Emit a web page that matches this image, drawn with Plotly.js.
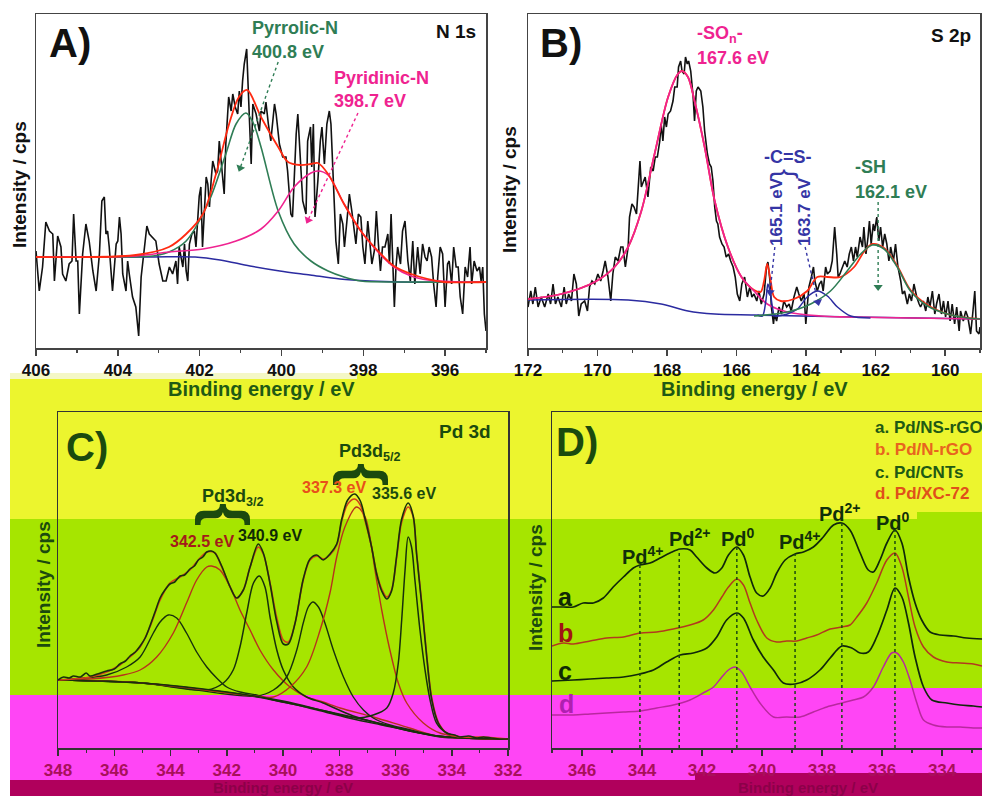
<!DOCTYPE html>
<html>
<head>
<meta charset="utf-8">
<script src="https://cdn.plot.ly/plotly-3.0.1.min.js"></script>
<style>
html,body{margin:0;padding:0;background:#fff;}
#chart{width:982px;height:796px;}
</style>
</head>
<body>
<div id="chart"></div>
<script>
// ---------------- DATA (binding energy eV, intensity a.u.) ----------------
// Panel A : N 1s
const aRaw = [[406.00,97],[405.92,57],[405.84,81],[405.76,126],[405.67,117],[405.59,114],[405.55,67],[405.47,112],[405.39,101],[405.35,74],[405.27,67],[405.19,84],[405.12,87],[405.08,134],[405.02,87],[404.98,87],[404.94,34],[404.86,94],[404.78,124],[404.70,107],[404.61,77],[404.53,57],[404.45,94],[404.39,147],[404.33,151],[404.29,114],[404.25,117],[404.21,101],[404.13,57],[404.04,104],[404.00,107],[403.96,131],[403.92,114],[403.88,74],[403.80,57],[403.76,87],[403.72,74],[403.64,51],[403.56,41],[403.49,12],[403.43,71],[403.35,101],[403.29,122],[403.23,114],[403.15,111],[403.07,107],[402.99,84],[402.90,67],[402.82,67],[402.74,81],[402.66,74],[402.58,87],[402.54,64],[402.50,101],[402.41,81],[402.37,104],[402.33,77],[402.29,67],[402.25,104],[402.19,114],[402.13,117],[402.09,101],[402.01,152],[401.97,161],[401.93,101],[401.89,134],[401.84,171],[401.80,164],[401.76,141],[401.72,167],[401.68,187],[401.60,174],[401.56,177],[401.52,207],[401.44,167],[401.40,154],[401.36,204],[401.29,251],[401.23,237],[401.19,254],[401.13,241],[401.07,234],[401.03,257],[400.99,241],[400.95,267],[400.91,284],[400.85,299],[400.79,224],[400.74,184],[400.70,244],[400.62,234],[400.54,217],[400.50,237],[400.42,234],[400.38,246],[400.32,224],[400.26,207],[400.17,244],[400.13,234],[400.05,204],[399.97,191],[399.89,191],[399.85,177],[399.77,134],[399.73,131],[399.69,167],[399.64,214],[399.60,234],[399.56,207],[399.52,174],[399.48,147],[399.40,134],[399.36,207],[399.29,221],[399.26,181],[399.22,224],[399.18,131],[399.11,167],[399.05,207],[399.01,221],[398.95,184],[398.89,224],[398.83,237],[398.79,224],[398.72,147],[398.67,107],[398.61,84],[398.56,134],[398.50,124],[398.46,101],[398.40,127],[398.34,154],[398.28,137],[398.23,121],[398.18,104],[398.12,134],[398.06,131],[398.01,101],[397.96,84],[397.89,127],[397.85,107],[397.79,84],[397.73,97],[397.68,137],[397.63,104],[397.58,77],[397.53,101],[397.47,101],[397.40,114],[397.36,84],[397.32,134],[397.28,84],[397.24,41],[397.20,81],[397.16,101],[397.09,84],[397.04,117],[396.98,127],[396.91,87],[396.85,67],[396.79,107],[396.74,64],[396.67,101],[396.61,74],[396.55,104],[396.49,91],[396.44,87],[396.39,101],[396.33,91],[396.28,64],[396.22,41],[396.18,71],[396.12,101],[396.06,94],[396.00,41],[395.94,84],[395.90,87],[395.84,64],[395.79,101],[395.73,81],[395.68,81],[395.63,51],[395.57,34],[395.51,81],[395.45,71],[395.39,101],[395.35,64],[395.29,87],[395.22,77],[395.16,81],[395.12,67],[395.08,81],[395.04,34],[395.00,17]];
const aEnvelope = [[406,91],[403.56,93],[402.75,101],[402.33,114],[401.92,134],[401.60,174],[401.28,224],[401.04,251],[400.84,258],[400.50,231],[400.08,201],[399.84,186],[399.55,183],[399.28,184],[399.11,185],[398.86,174],[398.47,144],[398.06,117],[397.64,97],[397.25,82],[396.83,74],[396.42,69],[396.03,66],[395,66]];
const aPyrrolic = [[406,91],[403.70,91],[403.14,92],[402.75,96],[402.33,107],[401.77,147],[401.36,194],[401.11,224],[400.87,235],[400.70,226],[400.50,201],[400.08,137],[399.69,104],[399.28,87],[398.86,77],[398.47,71],[398.06,67],[397.10,66],[395,66]];
const aPyridinic = [[406,91],[403.56,92],[402.75,96],[401.92,99],[401.11,107],[400.50,119],[400.08,137],[399.69,161],[399.28,175],[399.11,177],[398.86,173],[398.47,144],[398.06,117],[397.64,96],[397.25,81],[396.83,72],[396.42,68],[395.61,66],[395,66]];
const aBackground = [[406,91],[403.21,91],[402.11,91],[401.50,88],[400.77,82],[400.04,77],[399.30,73],[398.57,69],[397.84,67],[397.10,66],[395,66]];

// Panel B : S 2p
const bRaw = [[172.00,41],[171.92,57],[171.86,44],[171.79,61],[171.71,41],[171.62,51],[171.52,41],[171.42,54],[171.35,44],[171.28,64],[171.21,44],[171.14,51],[171.04,41],[170.96,61],[170.90,44],[170.83,54],[170.75,47],[170.68,74],[170.61,64],[170.54,32],[170.47,44],[170.37,47],[170.29,37],[170.23,61],[170.16,67],[170.08,64],[169.99,74],[169.91,67],[169.84,77],[169.78,87],[169.70,71],[169.62,47],[169.56,74],[169.49,91],[169.41,87],[169.33,101],[169.27,101],[169.20,81],[169.12,101],[169.08,131],[169.01,144],[168.95,141],[168.88,134],[168.82,167],[168.78,187],[168.74,161],[168.68,167],[168.63,171],[168.55,151],[168.47,181],[168.40,177],[168.34,191],[168.28,191],[168.21,207],[168.17,224],[168.12,207],[168.07,231],[168.02,221],[167.97,234],[167.90,237],[167.83,247],[167.78,261],[167.71,261],[167.67,281],[167.61,287],[167.57,277],[167.51,274],[167.47,291],[167.42,284],[167.38,287],[167.32,277],[167.25,251],[167.21,227],[167.16,257],[167.11,261],[167.03,257],[166.97,241],[166.92,217],[166.84,194],[166.78,184],[166.73,181],[166.68,167],[166.63,141],[166.58,127],[166.54,124],[166.49,111],[166.42,104],[166.36,101],[166.30,91],[166.23,94],[166.17,87],[166.10,81],[166.04,71],[165.98,54],[165.91,47],[165.85,64],[165.77,71],[165.69,51],[165.62,61],[165.56,51],[165.50,54],[165.42,47],[165.36,57],[165.29,44],[165.21,54],[165.14,81],[165.10,86],[165.04,67],[165.00,41],[164.94,24],[164.91,34],[164.85,27],[164.78,41],[164.71,34],[164.64,47],[164.56,41],[164.49,44],[164.43,37],[164.35,51],[164.27,61],[164.21,54],[164.14,47],[164.06,54],[164.01,24],[163.97,41],[163.92,61],[163.85,71],[163.79,81],[163.75,67],[163.68,57],[163.62,64],[163.56,67],[163.51,57],[163.44,81],[163.39,74],[163.31,77],[163.25,87],[163.18,121],[163.12,94],[163.08,71],[163.03,74],[162.96,81],[162.89,87],[162.82,81],[162.76,94],[162.70,101],[162.64,87],[162.58,101],[162.53,91],[162.45,111],[162.38,101],[162.34,121],[162.28,94],[162.22,111],[162.18,127],[162.13,104],[162.07,124],[162.03,117],[161.97,131],[161.91,107],[161.86,121],[161.80,101],[161.74,114],[161.68,104],[161.62,87],[161.57,101],[161.49,87],[161.43,104],[161.36,81],[161.28,67],[161.23,54],[161.17,57],[161.09,44],[161.03,54],[160.97,47],[160.90,64],[160.82,51],[160.75,44],[160.71,41],[160.63,47],[160.56,37],[160.50,51],[160.44,41],[160.37,57],[160.30,34],[160.25,44],[160.18,54],[160.11,34],[160.05,47],[159.99,31],[159.92,47],[159.86,27],[159.80,44],[159.73,24],[159.67,41],[159.60,17],[159.56,37],[159.48,27],[159.41,37],[159.35,31],[159.27,14],[159.21,34],[159.15,57],[159.10,17],[159.03,14],[159.00,21]];
const bSOn = [[172,49],[171.04,54],[170.08,66],[169.51,81],[169.12,101],[168.74,137],[168.36,194],[167.97,251],[167.69,274],[167.57,277],[167.40,271],[167.21,247],[166.92,201],[166.63,147],[166.25,101],[165.86,71],[165.50,57],[165.12,44],[164.54,36],[163.58,32],[162.82,31],[159,29]];
const bEnvelope = [[172,49],[171.04,54],[170.08,66],[169.51,81],[169.12,101],[168.74,137],[168.36,194],[167.97,251],[167.69,274],[167.57,277],[167.40,271],[167.21,247],[166.92,201],[166.63,147],[166.25,101],[165.86,71],[165.50,58],[165.31,56],[165.21,67],[165.12,84],[165.02,67],[164.92,51],[164.73,47],[164.35,49],[163.97,57],[163.68,71],[163.39,71],[163.01,71],[162.62,81],[162.34,96],[162.10,104],[161.76,100],[161.38,82],[161.00,58],[160.51,43],[159.94,34],[159.36,30],[159,29]];
const bCS1 = [[165.40,33],[165.26,32],[165.16,47],[165.10,64],[165.04,57],[164.97,41],[164.91,32],[164.80,32]];
const bCS2 = [[164.80,32],[164.54,34],[164.25,39],[163.97,51],[163.68,57],[163.39,52],[163.10,41],[162.72,32],[162.15,30]];
const bSH = [[165.5,32],[164.54,36],[163.87,44],[163.30,57],[162.82,77],[162.43,94],[162.10,103],[161.76,99],[161.38,81],[161.00,57],[160.51,42],[159.94,34],[159.36,30],[159,29]];
const bBackground = [[172,48],[169.12,48],[168.17,44],[167.40,37],[166.63,34],[165.50,33],[162.62,31],[159,29]];

// Panel C : Pd 3d (Pd/NS-rGO)
const cData = [[348.0,68],[347.8,71],[347.6,70],[347.45,72],[347.2,71],[347.0,75],[346.86,72],[346.6,74],[346.27,77],[346.0,79],[345.80,84],[345.6,87],[345.44,92],[345.25,96],[345.08,102],[344.9,110],[344.73,122],[344.55,136],[344.37,150],[344.2,158],[344.02,164],[343.85,166],[343.66,172],[343.5,173],[343.31,179],[343.15,182],[343.01,188],[342.85,191],[342.71,196],[342.55,197],[342.42,195],[342.18,182],[341.88,161],[341.65,150],[341.41,158],[341.17,181],[340.88,204],[340.70,195],[340.46,164],[340.22,126],[339.99,104],[339.81,104],[339.57,125],[339.28,169],[339.04,189],[338.80,193],[338.57,188],[338.33,194],[338.09,204],[337.91,229],[337.70,248],[337.45,254],[337.25,247],[337.08,229],[336.85,201],[336.67,174],[336.49,157],[336.31,149],[336.14,157],[335.96,192],[335.78,229],[335.55,245],[335.37,232],[335.25,194],[335.07,144],[334.89,91],[334.71,48],[334.48,25],[334.18,15],[333.9,13],[333.71,11],[333.4,12],[333.1,10],[332.88,11],[332.6,10],[332.3,9],[332.0,9]];
const cEnvelope = [[348,68],[347.45,69],[346.86,71],[346.27,76],[345.80,83],[345.44,91],[345.08,101],[344.73,121],[344.37,148],[344.02,165],[343.66,171],[343.31,178],[343.01,188],[342.71,196],[342.42,195],[342.18,181],[341.88,161],[341.65,150],[341.41,158],[341.17,181],[340.88,201],[340.70,194],[340.46,165],[340.22,130],[339.99,108],[339.81,106],[339.57,125],[339.28,168],[339.04,188],[338.80,192],[338.57,189],[338.33,193],[338.09,203],[337.91,227],[337.70,244],[337.45,249],[337.25,243],[337.08,227],[336.85,201],[336.67,175],[336.49,159],[336.31,151],[336.14,158],[335.96,190],[335.78,226],[335.55,241],[335.37,231],[335.25,195],[335.07,146],[334.89,93],[334.71,50],[334.48,26],[334.18,15],[333.71,11],[332.88,11],[332.0,9]];
const cPd4p32 = [[348,68],[347.45,69],[346.27,73],[345.56,81],[345.08,91],[344.61,115],[344.37,126],[344.08,133],[343.78,130],[343.43,115],[343.07,96],[342.71,81],[342.36,70],[342.00,61],[341.53,56],[340.94,53],[340.34,48],[339.5,43],[338.5,36],[337.5,29],[336.5,23],[335.5,17],[334.5,12],[333.5,10],[332,9]];
const cPd2p32 = [[348,68],[346.86,69],[345.68,73],[345.08,78],[344.49,91],[343.90,115],[343.43,145],[343.07,168],[342.71,181],[342.54,182],[342.24,178],[341.88,161],[341.53,138],[341.17,118],[340.82,98],[340.34,78],[339.75,61],[339.16,51],[338.57,46],[337.97,40],[336.79,31],[335.5,20],[334.5,12],[333.5,10],[332,9]];
const cPd0p32 = [[348,68],[345,65],[342.71,58],[342.12,65],[341.77,78],[341.53,101],[341.29,135],[341.05,165],[340.84,172],[340.64,161],[340.46,131],[340.22,98],[339.99,78],[339.63,61],[339.16,51],[338.57,45],[337.5,32],[336.5,24],[335.5,17],[334.5,12],[333.5,10],[332,9]];
const cPd4p52 = [[348,68],[345,65],[340.94,52],[340.34,58],[339.87,71],[339.51,98],[339.28,125],[339.10,141],[338.94,146],[338.74,141],[338.51,125],[338.21,98],[337.85,71],[337.50,51],[337.14,38],[336.79,30],[336.20,23],[335.60,19],[334.5,12],[333.5,10],[332,9]];
const cPd2p52 = [[348,68],[345,65],[341,52],[340.34,51],[339.75,61],[339.16,81],[338.68,118],[338.33,155],[338.09,191],[337.80,221],[337.39,241],[337.08,231],[336.91,211],[336.73,178],[336.49,138],[336.20,98],[335.90,65],[335.60,45],[335.01,25],[334.42,15],[333.23,10],[332,9]];
const cPd0p52 = [[348,68],[345,65],[342,56],[340,47],[338.5,37],[337.38,30],[336.79,33],[336.31,40],[336.08,55],[335.90,85],[335.78,128],[335.66,178],[335.55,211],[335.43,201],[335.31,168],[335.13,118],[334.95,78],[334.77,48],[334.54,25],[334.18,15],[333.71,11],[332,9]];
const cBackground = [[348,68],[345.08,65],[342.70,58],[340.92,51],[339.15,41],[337.37,30],[335.59,18],[334.42,11],[333.81,10],[332,9]];

// Panel D : Pd 3d of four catalysts
const dSeriesNames = ['a. Pd/NS-rGO', 'b. Pd/N-rGO', 'c. Pd/CNTs', 'd. Pd/XC-72'];
const dA = [[347.0,141],[346.62,141],[346.29,141],[345.96,145],[345.62,145],[345.29,150],[344.96,161],[344.62,171],[344.29,180],[344.07,183],[343.73,185],[343.40,190],[343.07,195],[342.73,199],[342.40,198],[342.18,191],[341.84,180],[341.57,175],[341.34,180],[341.12,193],[340.84,201],[340.62,193],[340.40,171],[340.18,155],[339.96,152],[339.73,160],[339.51,175],[339.23,188],[338.90,194],[338.62,196],[338.29,201],[337.96,211],[337.62,223],[337.34,225],[337.07,218],[336.73,195],[336.46,178],[336.29,176],[336.07,188],[335.84,205],[335.57,218],[335.34,205],[335.12,171],[334.90,145],[334.68,128],[334.40,116],[334.07,113],[333.62,112],[333.18,110],[332.67,109]];
const dB = [[347.0,102],[346.62,105],[346.29,104],[345.73,107],[345.18,110],[344.62,111],[344.07,115],[343.51,116],[342.96,119],[342.40,123],[341.96,128],[341.62,138],[341.34,151],[341.12,161],[340.84,169],[340.62,163],[340.40,145],[340.18,128],[339.84,110],[339.51,106],[339.18,107],[338.84,107],[338.51,110],[338.18,113],[337.73,119],[337.34,121],[337.07,123],[336.84,131],[336.51,145],[336.18,165],[335.84,188],[335.57,195],[335.34,181],[335.12,151],[334.90,121],[334.62,101],[334.29,91],[333.84,86],[333.40,85],[332.96,84],[332.67,82]];
const dC = [[347.0,67],[346.29,68],[345.73,69],[345.18,70],[344.62,71],[344.07,74],[343.62,78],[343.18,86],[342.73,93],[342.29,95],[341.84,100],[341.51,111],[341.18,128],[340.84,135],[340.62,130],[340.29,108],[339.96,91],[339.62,78],[339.29,65],[338.90,64],[338.51,68],[338.07,78],[337.73,90],[337.34,102],[337.01,100],[336.73,95],[336.46,96],[336.18,111],[335.84,138],[335.57,160],[335.34,151],[335.12,125],[334.90,91],[334.62,61],[334.34,48],[333.84,45],[333.40,43],[332.96,42],[332.67,41]];
const dD = [[347.0,33],[346.29,33],[345.73,34],[345.18,35],[344.62,36],[344.07,37],[343.51,40],[342.96,43],[342.40,48],[341.96,55],[341.62,61],[341.34,71],[341.12,78],[340.90,81],[340.68,76],[340.40,61],[340.07,45],[339.62,31],[339.18,31],[338.73,31],[338.29,36],[337.84,41],[337.34,45],[336.96,48],[336.62,51],[336.29,61],[335.96,81],[335.68,95],[335.51,95],[335.29,86],[335.07,68],[334.84,45],[334.62,28],[334.29,23],[333.84,21],[333.40,21],[332.96,20],[332.67,20]];
const dPeakE = [344.07, 342.76, 340.84, 338.90, 337.34, 335.57];
const dPeakLabels = ['Pd<sup>4+</sup>', 'Pd<sup>2+</sup>', 'Pd<sup>0</sup>', 'Pd<sup>4+</sup>', 'Pd<sup>2+</sup>', 'Pd<sup>0</sup>'];

// ---------------- DRAWING ----------------
const W = 982, H = 796;
const F = '"Liberation Sans", Arial, Helvetica, sans-serif';
const xs = p => p.map(q => q[0]);
const ys = p => p.map(q => q[1]);

function tr(pairs, color, width, ax, shape) {
  return {type: 'scatter', mode: 'lines', x: xs(pairs), y: ys(pairs),
    xaxis: 'x' + ax, yaxis: 'y' + ax,
    line: {color: color, width: width, shape: shape || 'linear', smoothing: 0.9},
    hoverinfo: 'skip', showlegend: false};
}
function interp(pairs, e) {
  for (let i = 0; i < pairs.length - 1; i++) {
    const a = pairs[i], b = pairs[i + 1];
    if ((e <= a[0] && e >= b[0])) {
      const t = (a[0] - e) / (a[0] - b[0]);
      return a[1] + t * (b[1] - a[1]);
    }
  }
  return pairs[pairs.length - 1][1];
}

const cBlk = '#17300c', cRed = '#b8321c';
const traces = [
  // A
  tr(aRaw, '#111111', 1.6, ''),
  tr(aBackground, '#2b2ba0', 1.5, '', 'spline'),
  tr(aPyrrolic, '#2f7d55', 1.6, '', 'spline'),
  tr(aPyridinic, '#ef2390', 1.6, '', 'spline'),
  tr(aEnvelope, '#ff2a12', 1.8, '', 'spline'),
  // B
  tr(bRaw, '#111111', 1.6, '2'),
  tr(bBackground, '#2b2ba0', 1.5, '2', 'spline'),
  tr(bEnvelope, '#ff2a12', 1.8, '2', 'spline'),
  tr(bSOn, '#ef2390', 1.7, '2', 'spline'),
  tr(bCS1, '#2b2ba0', 1.5, '2', 'spline'),
  tr(bCS2, '#2b2ba0', 1.5, '2', 'spline'),
  tr(bSH, '#2f7d55', 1.6, '2', 'spline'),
  // C
  tr(cBackground, cBlk, 1.4, '3', 'spline'),
  tr(cPd4p32, cBlk, 1.4, '3', 'spline'),
  tr(cPd2p32, cRed, 1.4, '3', 'spline'),
  tr(cPd0p32, cBlk, 1.5, '3', 'spline'),
  tr(cPd4p52, cBlk, 1.4, '3', 'spline'),
  tr(cPd2p52, cRed, 1.4, '3', 'spline'),
  tr(cPd0p52, cBlk, 1.5, '3', 'spline'),
  tr(cEnvelope, '#d2401c', 1.6, '3', 'spline'),
  tr(cData, cBlk, 1.6, '3', 'spline'),
  // D
  tr(dA, '#10280a', 1.7, '4', 'spline'),
  tr(dB, '#b23a1e', 1.5, '4', 'spline'),
  tr(dC, '#10280a', 1.7, '4', 'spline'),
  tr(dD, '#b8289e', 1.5, '4', 'spline')
];

function xax(dom, range, anchor, o) {
  return Object.assign({domain: dom, range: range, anchor: anchor, autorange: false,
    showline: true, mirror: true, linecolor: '#444', linewidth: 1.5,
    ticks: 'outside', ticklen: 6, tickwidth: 1.5, tickcolor: '#444',
    tick0: 0, dtick: 2, showgrid: false, zeroline: false,
    tickfont: {family: F, size: 17, color: '#111', weight: 'bold'},
    minor: {ticks: 'outside', ticklen: 3.5, tickwidth: 1.2, tickcolor: '#444', tick0: 0, dtick: 1, showgrid: false},
    fixedrange: true}, o || {});
}
function yax(dom, range, anchor, o) {
  return Object.assign({domain: dom, range: range, anchor: anchor, autorange: false,
    showline: true, mirror: true, linecolor: '#444', linewidth: 1.5,
    ticks: '', showticklabels: false, showgrid: false, zeroline: false, fixedrange: true}, o || {});
}
const yTop = [1 - 348 / H, 1 - 14 / H];
const yBot = [1 - 748 / H, 1 - 412 / H];
const magTick = {family: F, size: 17, color: '#a8105a', weight: 'bold'};

function T(px, py, text, size, color, o, plain) {
  return Object.assign({xref: 'paper', yref: 'paper', x: px / W, y: 1 - py / H,
    text: plain ? text : '<b>' + text + '</b>', showarrow: false,
    xanchor: 'center', yanchor: 'middle',
    font: {family: F, size: size, color: color}}, o || {});
}
const L = {xanchor: 'left'};
const ROT = {textangle: -90};
const dg = '#1b4a0e';

const ann = [
  // A
  T(70, 43, 'A)', 40, '#111'),
  T(456, 32, 'N 1s', 19, '#111'),
  T(250, 28, 'Pyrrolic-N', 18, '#2f7d55', L),
  T(250, 52, '400.8 eV', 18, '#2f7d55', L),
  T(332, 78, 'Pyridinic-N', 18, '#ef2390', L),
  T(332, 101, '398.7 eV', 18, '#ef2390', L),
  T(20, 185, 'Intensity / cps', 19, '#111', ROT),
  T(261, 389, 'Binding energy / eV', 20, '#1f5a14'),
  // B
  T(561, 43, 'B)', 40, '#111'),
  T(951, 35, 'S 2p', 19, '#111'),
  T(695, 34, '-SO<sub>n</sub>-', 18, '#ef2390', L),
  T(695, 58, '167.6 eV', 18, '#ef2390', L),
  T(788, 157, '-C=S-', 18, '#3535a5'),
  T(787, 174, '{', 30, '#3535a5', {textangle: 90}, true),
  T(777, 212, '165.1 eV', 17, '#3535a5', ROT),
  T(805, 212, '163.7 eV', 17, '#3535a5', ROT),
  T(853, 167, '-SH', 18, '#2f7d55', L),
  T(853, 192, '162.1 eV', 18, '#2f7d55', L),
  T(510, 190, 'Intensity / cps', 19, '#111', ROT),
  T(754, 389, 'Binding energy / eV', 20, '#1f5a14'),
  // C
  T(87, 447, 'C)', 40, dg),
  T(493, 431, 'Pd 3d', 19, dg, {xanchor: 'right'}),
  T(337, 452, 'Pd3d<sub>5/2</sub>', 18, dg, L),
  T(366, 474, '{', 60, dg, {textangle: 90}),
  T(334, 487, '337.3 eV', 16, '#e8501a'),
  T(404, 493, '335.6 eV', 16, dg),
  T(200, 497, 'Pd3d<sub>3/2</sub>', 18, dg, L),
  T(228, 514, '{', 60, dg, {textangle: 90}),
  T(202, 541, '342.5 eV', 16, '#a31a1a'),
  T(270, 535, '340.9 eV', 16, '#0f2a05'),
  T(43, 585, 'Intensity / cps', 19, dg, ROT),
  T(283, 787, 'Binding energy / eV', 15, '#8c0049'),
  // D
  T(577, 442, 'D)', 40, dg),
  T(873, 427, dSeriesNames[0], 17, '#1f5a14', L),
  T(873, 450, dSeriesNames[1], 17, '#e8641e', L),
  T(873, 472, dSeriesNames[2], 17, '#1f5a14', L),
  T(873, 493, dSeriesNames[3], 17, '#e0501a', L),
  T(565, 597, 'a', 25, '#0f2a05'),
  T(565, 633, 'b', 25, '#a01515'),
  T(565, 671, 'c', 25, '#0f2a05'),
  T(566, 704, 'd', 25, '#b020b0'),
  T(535, 588, 'Intensity / cps', 19, dg, ROT),
  T(808, 787, 'Binding energy / eV', 15, '#8c0049')
];
// Pd oxidation state labels in D
const dLabelPx = [[643, 555], [690, 537], [738, 537], [800, 540], [840, 512], [893, 521]];
dPeakLabels.forEach((t, i) => ann.push(T(dLabelPx[i][0], dLabelPx[i][1], t, 20, '#10300a')));

// dotted arrows (tail -> head in data coords), arrowheads as rotated triangle markers
const arrows = [
  {ax: '', t: [400.08, 286], h: [401.01, 180], c: '#2f7d55', ang: 20},
  {ax: '', t: [398.13, 235], h: [399.35, 128], c: '#ef2390', ang: 25},
  {ax: '2', t: [164.90, 101], h: [165.04, 56], c: '#3535a5', ang: 6},
  {ax: '2', t: [164.03, 101], h: [163.66, 46], c: '#3535a5', ang: -13},
  {ax: '2', t: [161.93, 146], h: [161.93, 61], c: '#2f7d55', ang: 0}
];
const shapes = [];
function band(x0, x1, y0, y1, col) {
  shapes.push({type: 'rect', xref: 'paper', yref: 'paper', x0: x0 / W, x1: x1 / W,
    y0: 1 - y1 / H, y1: 1 - y0 / H, fillcolor: col, line: {width: 0}, layer: 'below'});
}
band(10, 982, 373, 519, '#ecf52e');
band(10, 357, 373, 379, '#f4f7c6');
band(10, 982, 519, 695, '#a6e500');
band(917, 982, 512, 519, '#a6e500');
band(10, 982, 695, 780, '#ff45f5');
band(710, 982, 688, 695, '#ff45f5');
band(10, 982, 780, 796, '#b0005c');
band(695, 982, 773, 780, '#b0005c');

arrows.forEach(a => {
  shapes.push({type: 'line', xref: 'x' + a.ax, yref: 'y' + a.ax, x0: a.t[0], y0: a.t[1], x1: a.h[0], y1: a.h[1],
    line: {color: a.c, width: 1.4, dash: 'dot'}});
  traces.push({type: 'scatter', mode: 'markers', x: [a.h[0]], y: [a.h[1]],
    xaxis: 'x' + a.ax, yaxis: 'y' + a.ax,
    marker: {symbol: 'triangle-down', size: 8, angle: a.ang, color: a.c, line: {width: 0}},
    hoverinfo: 'skip', showlegend: false});
});
dPeakE.forEach(e => {
  shapes.push({type: 'line', xref: 'x4', yref: 'y4', x0: e, x1: e, y0: 0, y1: interp(dA, e),
    line: {color: '#1a4a10', width: 1.5, dash: 'dot'}});
});

const layout = {
  width: W, height: H, margin: {l: 0, r: 0, t: 0, b: 0},
  paper_bgcolor: '#ffffff', plot_bgcolor: 'rgba(0,0,0,0)',
  showlegend: false, hovermode: false,
  font: {family: F},
  xaxis: xax([36 / W, 486 / W], [406, 395], 'y'),
  yaxis: yax(yTop, [0, 334], 'x'),
  xaxis2: xax([528 / W, 980 / W], [172, 159], 'y2'),
  yaxis2: yax(yTop, [0, 334], 'x2'),
  xaxis3: xax([58 / W, 508 / W], [348, 332], 'y3', {linecolor: '#333', tickcolor: '#333', tickfont: magTick, minor: {ticks: 'outside', ticklen: 3.5, tickwidth: 1.2, tickcolor: '#333', tick0: 0, dtick: 1, showgrid: false}}),
  yaxis3: yax(yBot, [0, 336], 'x3', {linecolor: '#333'}),
  xaxis4: xax([552 / W, 1], [347, 332.67], 'y4', {linecolor: '#333', tickcolor: '#333', tickfont: magTick, minor: {ticks: 'outside', ticklen: 3.5, tickwidth: 1.2, tickcolor: '#333', tick0: 0, dtick: 1, showgrid: false}}),
  yaxis4: yax(yBot, [0, 336], 'x4', {linecolor: '#333', mirror: false}),
  annotations: ann,
  shapes: shapes
};

Plotly.newPlot('chart', traces, layout, {staticPlot: true, displayModeBar: false});
</script>
</body>
</html>
